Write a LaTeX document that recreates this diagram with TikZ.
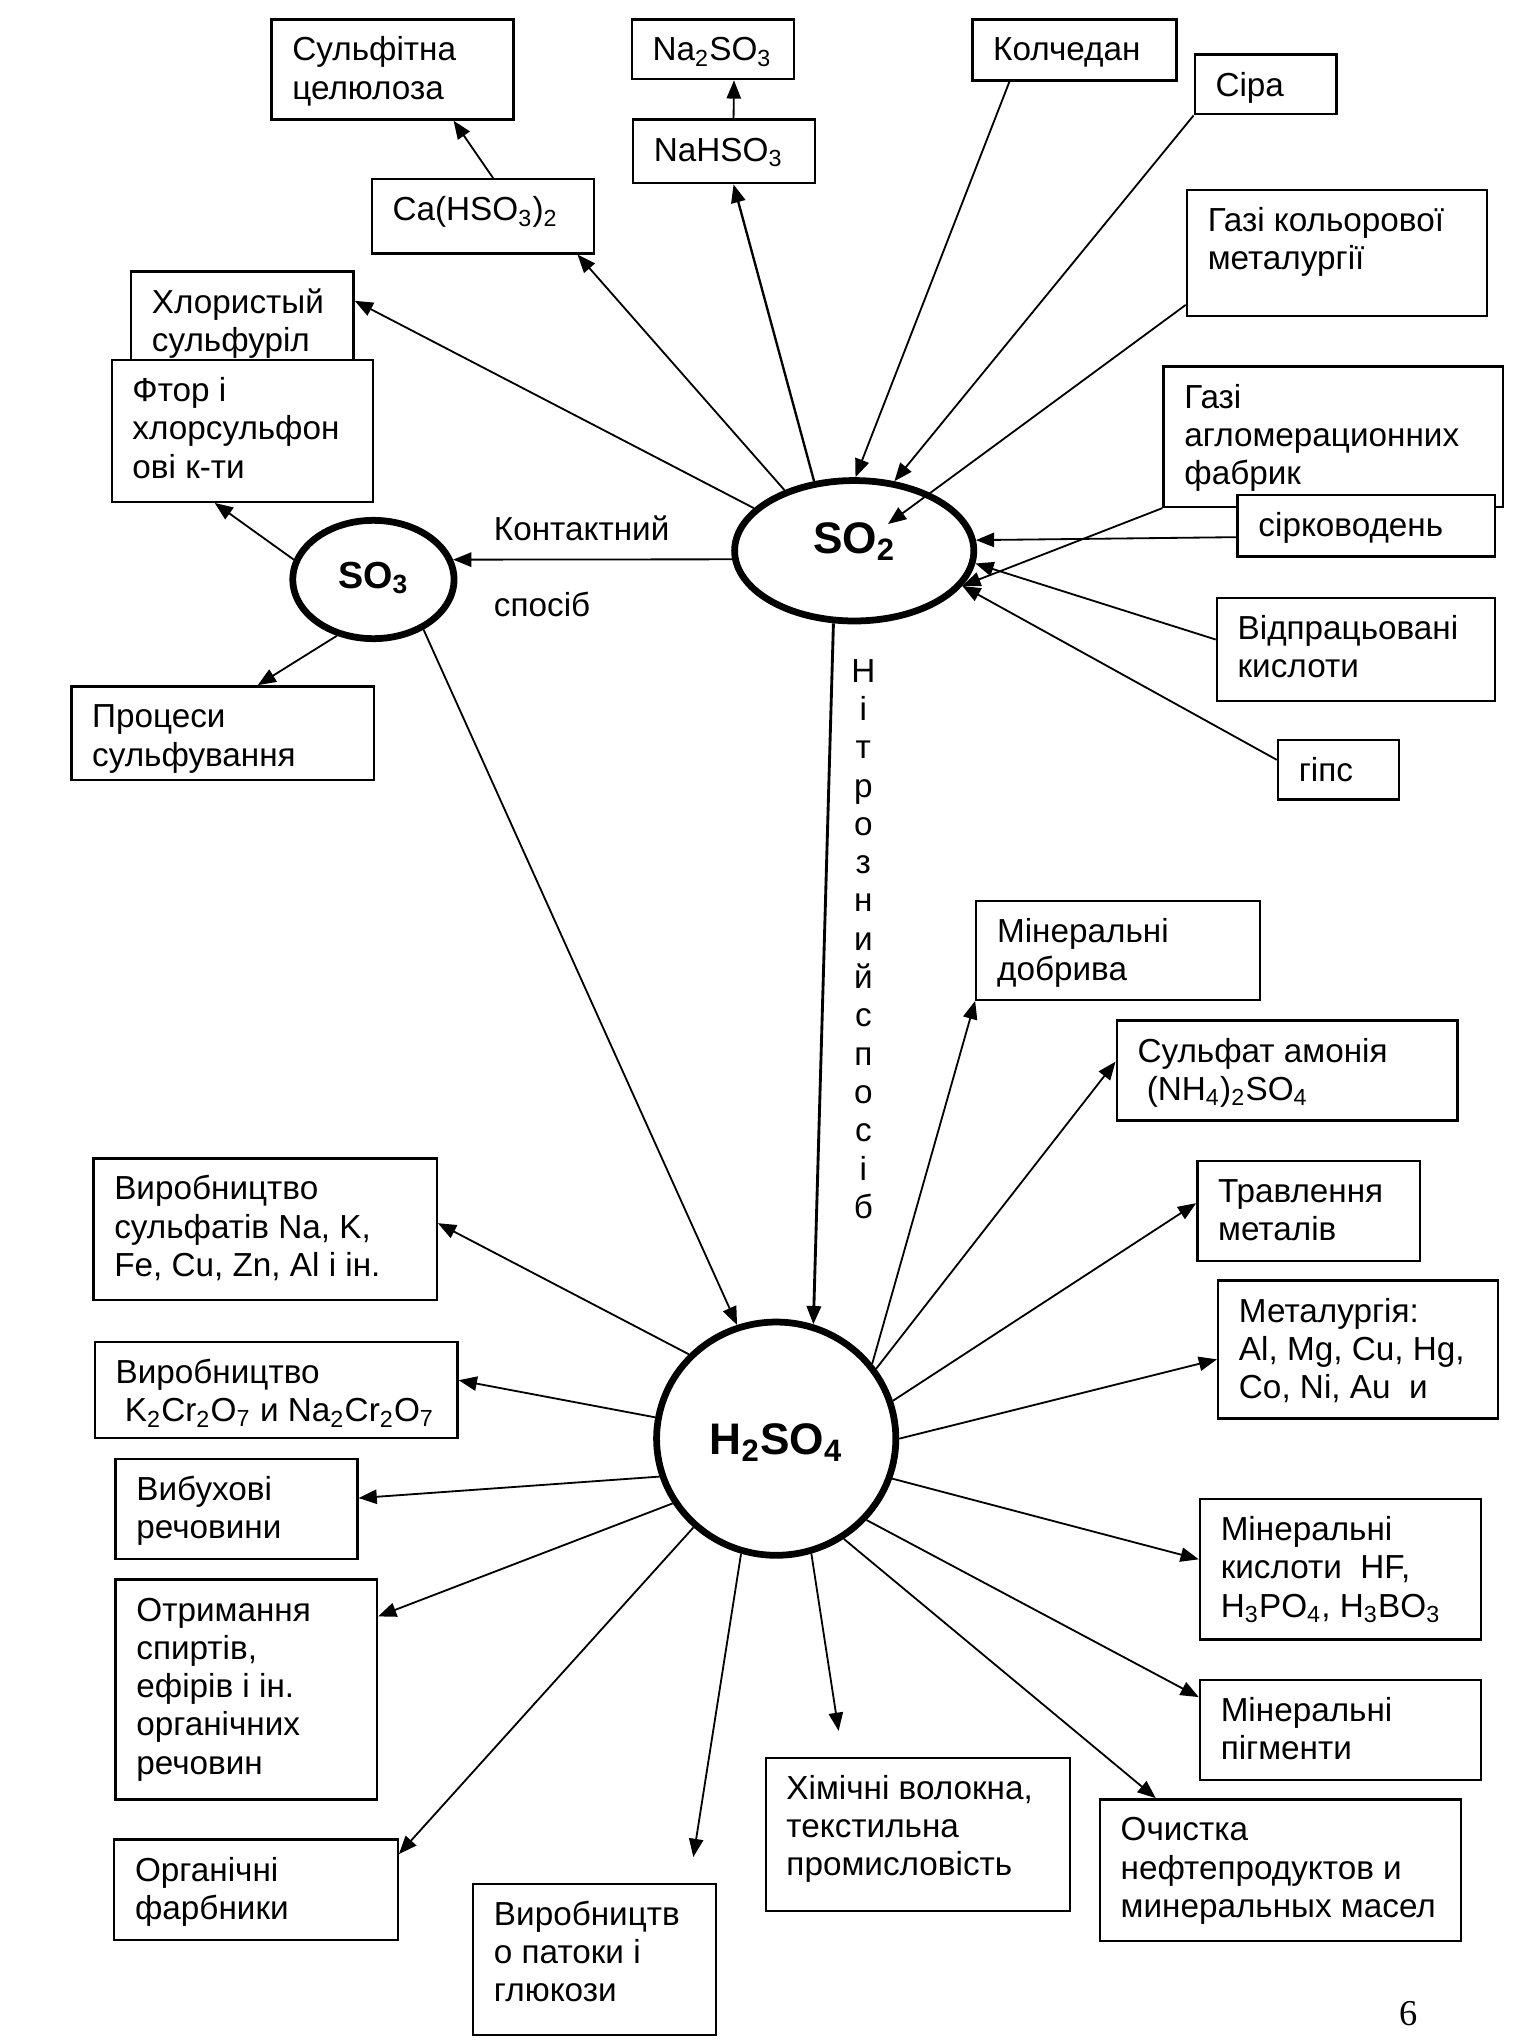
\documentclass[tikz,border=0pt]{standalone}
\usepackage{fontspec}
\setmainfont{Liberation Sans}
\newfontfamily\pagefont{Liberation Serif}
\usetikzlibrary{arrows.meta,shapes.geometric}

\newcommand{\boxfont}{\fontsize{12.8}{14.7}\selectfont}
\newcommand{\corefont}{\fontsize{17}{20}\selectfont\bfseries}
% box text: width and height in picture units, text kept at the top
\newcommand{\inbox}[3]{\parbox[t][\dimexpr#2pt/2-11.4pt\relax][t]{\dimexpr#1pt/2-16pt\relax}{\boxfont\begin{tabular}[t]{@{}l@{}}#3\end{tabular}}}

\tikzset{
chart/.style = { x = 0.5pt, y = -0.5pt, > = {Triangle[length = 7pt, width = 5.5pt]} },
box/.style = { draw, fill = white, line width = 0.9pt, anchor = north west, inner xsep = 8pt, inner ysep = 5.7pt },
core/.style = { ellipse, draw, line width = 2.6pt, inner sep = 0pt, font = \corefont },
word/.style = { font = \boxfont, inner sep = 0pt },
feed/.style = { ->, line width = 0.7pt }
}

\begin{document}
\begin{tikzpicture}[chart]
	\path[use as bounding box, fill = white] (0,0) rectangle (1182,1569);

	% sources of SO2
	\node[box] (kolch) at (747,14) {\inbox{157}{47}{Колчедан}};
	\node[box] (sira) at (918,41) {\inbox{109}{46}{Сіра}};
	\node[box] (kolor) at (912,145) {\inbox{231}{97}{Газі кольорової\\металургії}};
	\node[box] (aglo) at (894,281) {\inbox{261}{108}{Газі\\агломерационних\\фабрик}};
	\node[box] (sirk) at (951,380) {\inbox{198}{47}{сірководень}};
	\node[box] (vidp) at (935,459) {\inbox{214}{79}{Відпрацьовані\\кислоти}};
	\node[box] (gips) at (982,568) {\inbox{93}{46}{гіпс}};

	% what comes from SO2 and SO3
	\node[box] (sulf) at (208,14) {\inbox{186}{77}{Сульфітна\\целюлоза}};
	\node[box] (na2) at (485,14) {\inbox{125}{46}{Na\textsubscript{2}SO\textsubscript{3}}};
	\node[box] (nahso) at (486,91) {\inbox{140}{49}{NaHSO\textsubscript{3}}};
	\node[box] (ca) at (285,137) {\inbox{171}{57}{Ca(HSO\textsubscript{3})\textsubscript{2}}};
	\node[box] (chlor) at (100,208) {\inbox{171}{88}{Хлористый\\сульфуріл}};
	\node[box] (ftor) at (85,276) {\inbox{201}{109}{Фтор і\\хлорсульфон\\ові к-ти}};
	\node[box] (proc) at (54,527) {\inbox{233}{72}{Процеси\\сульфування}};

	% what comes from H2SO4
	\node[box] (dobr) at (750,692) {\inbox{218}{76}{Мінеральні\\добрива}};
	\node[box] (amon) at (858,784) {\inbox{262}{77}{Сульфат амонія\\\ (NH\textsubscript{4})\textsubscript{2}SO\textsubscript{4}}};
	\node[box] (travl) at (920,892) {\inbox{171}{77}{Травлення\\металів}};
	\node[box] (metal) at (936,984) {\inbox{215}{106}{Металургія:\\Al, Mg, Cu, Hg,\\Co, Ni, Au\ \ и}};
	\node[box] (kisl) at (922,1152) {\inbox{216}{108}{Мінеральні\\кислоти\ \ HF,\\H\textsubscript{3}PO\textsubscript{4}, H\textsubscript{3}BO\textsubscript{3}}};
	\node[box] (pigm) at (922,1291) {\inbox{216}{77}{Мінеральні\\пігменти}};
	\node[box] (ochyst) at (845,1383) {\inbox{278}{109}{Очистка\\нефтепродуктов и\\минеральных масел}};
	\node[box] (khim) at (588,1351) {\inbox{234}{118}{Хімічні волокна,\\текстильна\\промисловість}};
	\node[box] (patok) at (363,1448) {\inbox{187}{116}{Виробництв\\о патоки і\\глюкози}};
	\node[box] (organ) at (87,1414) {\inbox{218}{77}{Органічні\\фарбники}};
	\node[box] (otrym) at (88,1214) {\inbox{201}{169}{Отримання\\спиртів,\\ефірів і ін.\\органічних\\речовин}};
	\node[box] (vybukh) at (88,1121) {\inbox{186}{77}{Вибухові\\речовини}};
	\node[box] (kcr) at (72,1031) {\inbox{279}{74}{Виробництво\\\ K\textsubscript{2}Cr\textsubscript{2}O\textsubscript{7} и Na\textsubscript{2}Cr\textsubscript{2}O\textsubscript{7}}};
	\node[box] (sulfat) at (71,890) {\inbox{264}{109}{Виробництво\\сульфатів Na, K,\\Fe, Cu, Zn, Al і ін.}};

	% the three oxides / acid
	\node[core, minimum width = 92pt, minimum height = 54pt, text height = 12.2pt, text depth = 10pt] (SO2) at (657,423.6) {SO\textsubscript{2}};
	\node[core, minimum width = 62pt, minimum height = 45.5pt, font = \fontsize{14.5}{17}\selectfont\bfseries, text height = 10.4pt, text depth = 3.7pt] (SO3) at (287.2,445.7) {SO\textsubscript{3}};
	\node[core, minimum width = 92pt, minimum height = 89.7pt, text height = 12.2pt, text depth = 0pt] (H2SO4) at (597,1106.5) {H\textsubscript{2}SO\textsubscript{4}};
	\path (SO2.center) ++(26,-20.6) coordinate (so2in);

	\node[word, anchor = base west] (kont) at (379.5,416) {Контактний};
	\node[word, anchor = base west] (spos) at (379.5,474.5) {спосіб};
	\foreach \ch [count = \i from 0] in {Н,і,т,р,о,з,н,и,й,с,п,о,с,і,б}
		\node[word, anchor = base] (nitro\i) at (664, {524.6 + 29.46*\i}) {\ch};
	\node[font = \pagefont\fontsize{14}{16}\selectfont, inner sep = 0pt] (page) at (1083,1549) {6};

	% into SO2
	\draw[feed] (kolch.206) -- (SO2.89);
	\draw[feed] (sira.south west) -- (SO2.60);
	\draw[feed] (kolor.199) -- (so2in);
	\draw[feed] (aglo.south west) -- (SO2.-18);
	\draw[feed] (sirk.185) -- (SO2.5);
	\draw[feed] (vidp.176) -- (SO2.-6);
	\draw[feed] (gips.171) -- (SO2.-18);

	% out of SO2, SO3
	\draw[feed] (SO2.157) -- (chlor.14);
	\draw[feed] (SO2.139) -- (ca.-22);
	\draw[feed, line width = 0.9pt] (SO2.120) -- (nahso.-74.5);
	\draw[feed] (nahso.74.5) -- (na2.-56.4);
	\draw[feed] (ca.75) -- (sulf.-40);
	\draw[feed] (SO2.184) -- (SO3.14);
	\draw[feed] (SO3.166) -- (ftor.-111);
	\draw[feed] (SO3.237) -- (proc.54);
	\draw[feed] (SO3.-45) -- (H2SO4.109);
	\draw[feed, line width = 1.1pt] (SO2.254) -- (H2SO4.72);

	% out of H2SO4
	\draw[feed] (H2SO4.136) -- (sulfat.2);
	\draw[feed] (H2SO4.170) -- (kcr.3);
	\draw[feed] (H2SO4.198) -- (vybukh.5);
	\draw[feed] (H2SO4.212) -- (otrym.29);
	\draw[feed] (H2SO4.227) -- (organ.14);
	\draw[feed, shorten > = 10pt] (H2SO4.253) -- (patok.39);
	\draw[feed, shorten > = 10pt] (H2SO4.287) -- (khim.134);
	\draw[feed] (H2SO4.304) -- (ochyst.150);
	\draw[feed] (H2SO4.318) -- (pigm.167);
	\draw[feed] (H2SO4.341) -- (kisl.176);
	\draw[feed] (H2SO4.0) -- (metal.184);
	\draw[feed] (H2SO4.18) -- (travl.176);
	\draw[feed] (H2SO4.35) -- (amon.177);
	\draw[feed] (H2SO4.38) -- (dobr.south west);
\end{tikzpicture}
\end{document}
